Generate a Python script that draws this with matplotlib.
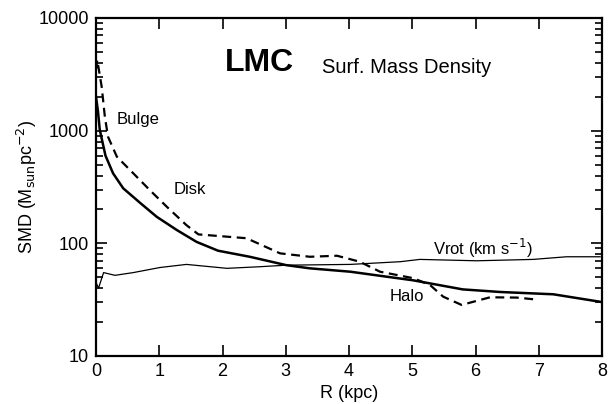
import matplotlib.pyplot as plt
from matplotlib.ticker import FixedLocator, FixedFormatter, LogLocator, NullFormatter

plt.rcParams["font.family"] = ["Liberation Sans", "DejaVu Sans"]

# thick solid curve (SMD, total)
r_solid = [0.0, 0.03, 0.06, 0.15, 0.27, 0.43, 0.70, 0.96, 1.28, 1.59, 1.93, 2.43, 3.01,
           3.38, 4.02, 5.01, 5.80, 6.39, 7.23, 7.97, 8.0]
smd_solid = [2000, 1500, 1014, 600, 418, 308, 228, 172, 131, 103, 86, 76, 64,
             60, 56, 47, 39, 37, 35.3, 30.3, 30.0]

# dashed curve
r_dash = [0.0, 0.02, 0.09, 0.14, 0.19, 0.33, 0.59, 0.85, 1.12, 1.43, 1.62, 2.38, 2.91,
          3.38, 3.81, 4.17, 4.49, 5.02, 5.28, 5.49, 5.78, 6.23, 6.65, 6.94]
smd_dash = [3500, 4240, 2450, 1330, 883, 587, 418, 297, 211, 145, 120, 111, 81.5,
            76, 77.6, 68.7, 56, 49, 42.7, 33.6, 28.4, 33.2, 33, 31.8]

# thin solid curve (Vrot)
r_vrot = [0.0, 0.04, 0.12, 0.30, 0.59, 1.01, 1.43, 2.07, 2.59, 3.01, 4.02, 4.81,
          5.12, 6.02, 6.91, 7.44, 7.97]
vrot = [45, 40, 55, 52, 55, 61, 65, 60, 62, 64, 65, 68.7, 72, 70, 72, 76, 76]

fig = plt.figure(figsize=(6.08, 4.04), dpi=100)
ax = fig.add_axes([96 / 608, 1 - 356 / 404, (602 - 96) / 608, (356 - 18) / 404])

ax.plot(r_solid, smd_solid, color="black", lw=1.8)
ax.plot(r_dash, smd_dash, color="black", lw=1.6, linestyle=(0, (4, 2.5)))
ax.plot(r_vrot, vrot, color="black", lw=0.9)

ax.set_yscale("log")
ax.set_xlim(0, 8)
ax.set_ylim(10, 10000)

ax.xaxis.set_major_locator(FixedLocator(range(0, 9)))
ax.yaxis.set_major_locator(FixedLocator([10, 100, 1000, 10000]))
ax.yaxis.set_major_formatter(FixedFormatter(["10", "100", "1000", "10000"]))
ax.yaxis.set_minor_locator(LogLocator(base=10, subs=range(2, 10)))
ax.yaxis.set_minor_formatter(NullFormatter())

ax.tick_params(which="both", direction="in", top=True, right=True, labelsize=13, width=1.2)
ax.tick_params(which="major", length=8, pad=5)
ax.tick_params(which="minor", length=5)
for s in ax.spines.values():
    s.set_linewidth(1.6)

ax.set_xlabel("R (kpc)", fontsize=13)
ax.set_ylabel("SMD (M$_{\\rm sun}$pc$^{-2}$)", fontsize=13, labelpad=0)

ax.text(2.04, 3950, "LMC", fontsize=23, fontweight="bold", ha="left", va="center")
ax.text(3.57, 3650, "Surf. Mass Density", fontsize=14.5, ha="left", va="center")
ax.text(0.33, 1250, "Bulge", fontsize=12, ha="left", va="center")
ax.text(1.22, 300, "Disk", fontsize=12, ha="left", va="center")
ax.text(5.33, 90, "Vrot (km s$^{-1}$)", fontsize=12, ha="left", va="center")
ax.text(4.65, 34, "Halo", fontsize=12, ha="left", va="center")

fig.savefig("out.png", dpi=100)
